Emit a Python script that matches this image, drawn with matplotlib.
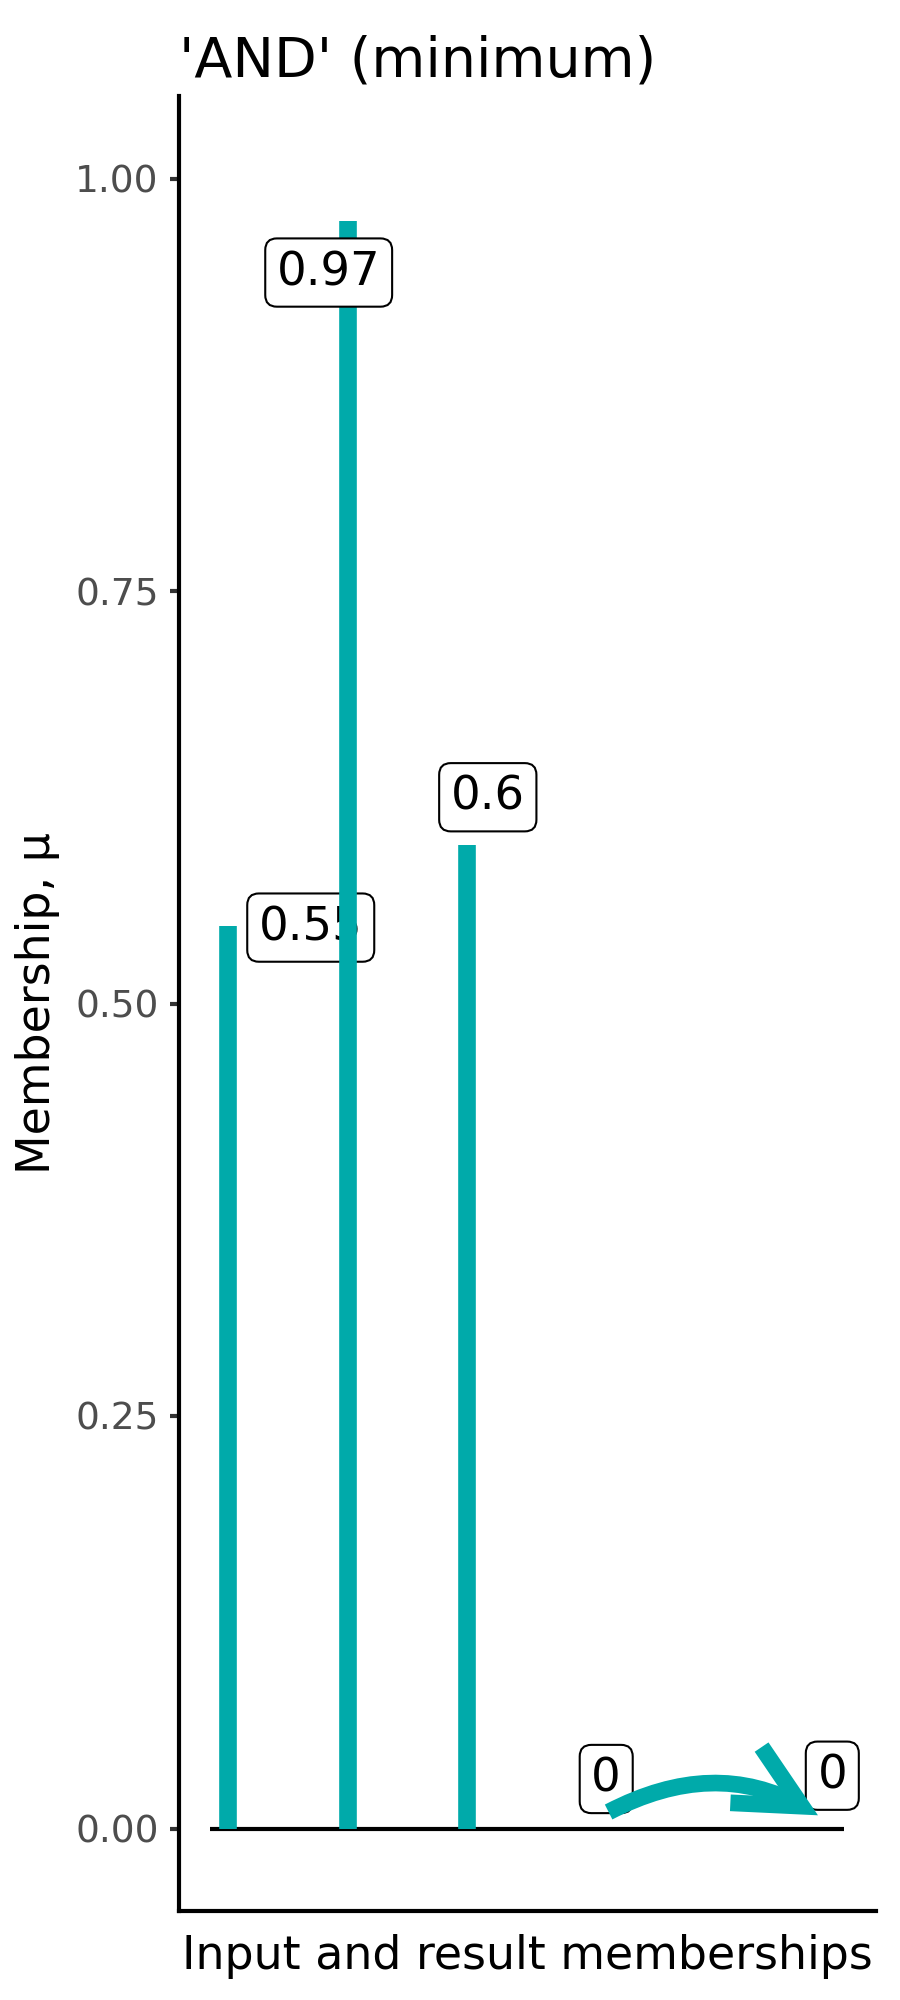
import numpy as np
import matplotlib.pyplot as plt
from matplotlib.patches import FancyArrowPatch
plt.switch_backend('agg')

# input memberships and the 'AND' result
input_x = [1, 2, 3, 4]
memberships = [0.547, 0.974, 0.596, 0.0]
result_x = 6
result = min(memberships)

# label anchor points (data coords)
label_x = [1.69, 1.84, 3.17, 4.16]
label_y = [0.546, 0.943, 0.625, 0.030]
result_label_x = 6.05
result_label_y = 0.032

# curved arrow from inputs to result
arrow_from = (4.18, 0.010)
arrow_to = (5.93, 0.008)

baseline_x = [0.85, 6.15]
yticks = [0, 0.25, 0.5, 0.75, 1.0]

teal = '#00AAAA'

fig = plt.figure(figsize=(9, 20), dpi=100)
ax = fig.add_axes([0.1984, 0.0445, 0.7749, 0.9075])

ax.hlines(0, baseline_x[0], baseline_x[1], color='black', lw=3, zorder=1)

box = dict(boxstyle='round,pad=0.25,rounding_size=0.25', fc='white', ec='black', lw=1.5)
z = 2
for x, v, lx, ly in zip(input_x, memberships, label_x, label_y):
    ax.vlines(x, 0, v, color=teal, lw=12.7, zorder=z)
    ax.text(lx, ly, f'{round(v, 2):g}', ha='center', va='center', fontsize=33.5,
            bbox=box, zorder=z + 1)
    z += 2
ax.text(result_label_x, result_label_y, f'{round(result, 2):g}', ha='center',
        va='center', fontsize=33.5, bbox=box, zorder=z)

arr = FancyArrowPatch(arrow_from, arrow_to, connectionstyle='arc3,rad=-0.27',
                      arrowstyle='->,head_length=4.6,head_width=2.3',
                      mutation_scale=10, color=teal, lw=12, shrinkA=0, shrinkB=0,
                      capstyle='butt', joinstyle='miter', zorder=z + 1)
ax.add_patch(arr)

ax.set_xlim(0.585, 6.415)
ax.set_ylim(-0.05, 1.05)
ax.set_xticks([])
ax.set_yticks(yticks)
ax.set_yticklabels([f'{t:.2f}' for t in yticks])
ax.tick_params(axis='y', labelsize=27, labelcolor='#4D4D4D', color='#333333',
               length=6.2, width=3, pad=8)
for s in ['top', 'right']:
    ax.spines[s].set_visible(False)
for s in ['left', 'bottom']:
    ax.spines[s].set_linewidth(3)

ax.set_ylabel('Membership, μ', fontsize=33)
ax.yaxis.set_label_coords(-0.170, 0.5)
ax.set_xlabel('Input and result memberships', fontsize=33)
ax.xaxis.set_label_coords(0.5, -0.0127)
ax.set_title("'AND' (minimum)", loc='left', fontsize=40, pad=14)

fig.savefig('out.png')
